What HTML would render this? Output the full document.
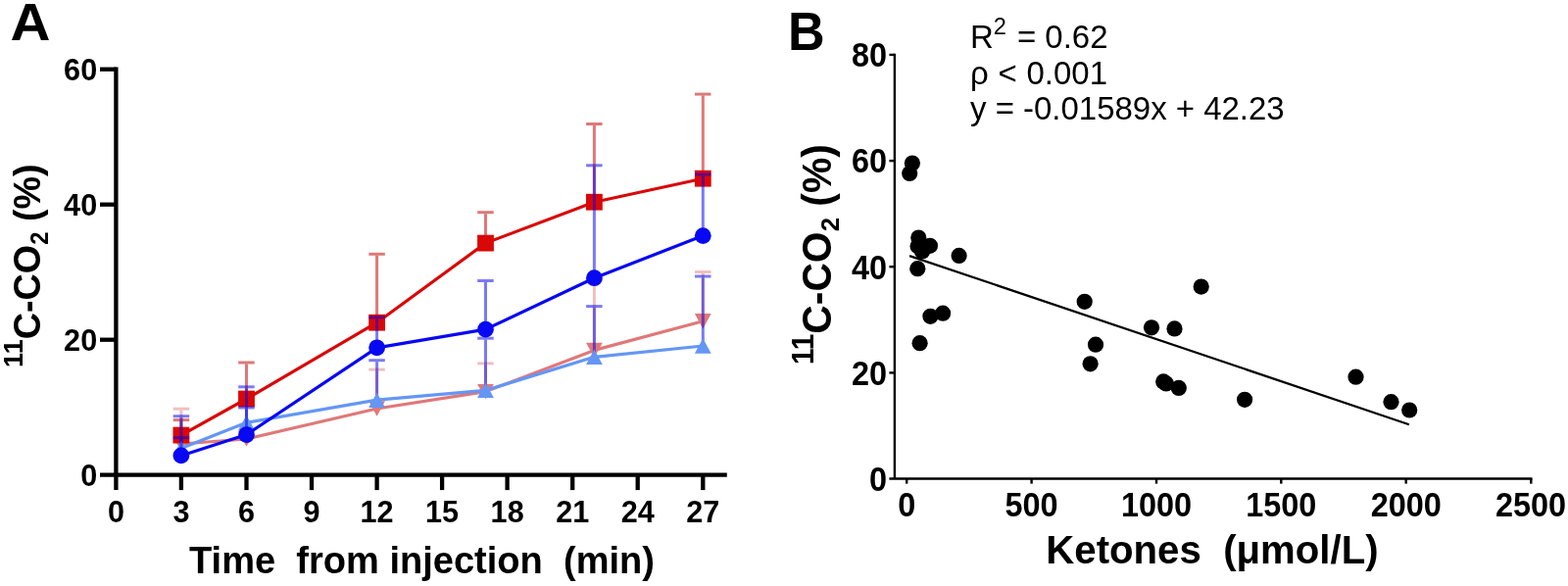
<!DOCTYPE html>
<html><head><meta charset="utf-8"><title>11C-CO2 figure</title>
<style>html,body{margin:0;padding:0;background:#fff;}svg{display:block;}text{font-family:"Liberation Sans", Arial, Helvetica, sans-serif;fill:#000;}.b{font-weight:bold;}.pre{white-space:pre;}</style></head><body>
<svg width="1600" height="598" viewBox="0 0 1600 598">
<rect x="0" y="0" width="1600" height="598" fill="#fff"/>
<text class="b" font-size="54.00" transform="translate(10.50 41.00) scale(1.0500 1)">A</text>
<text class="b" font-size="39.50" transform="translate(40.60 375.00) rotate(-90) scale(0.9550 1)"><tspan font-size="28.5" dy="-18.0">11</tspan><tspan dy="18.0">C-CO</tspan><tspan font-size="25.0" dy="8.0">2</tspan><tspan dy="-8.0"> (%)</tspan></text>
<text class="b pre" font-size="38.80" transform="translate(193.00 584.90) scale(0.9810 1)">Time  from injection  (min)</text>
<g stroke="#000" stroke-width="4.3" fill="none" stroke-linecap="butt">
<line x1="118.4" y1="68.5" x2="118.4" y2="500.1"/>
<line x1="102" y1="484.7" x2="741.8" y2="484.7"/>
<line x1="102" y1="346.7" x2="118.4" y2="346.7"/>
<line x1="102" y1="208.7" x2="118.4" y2="208.7"/>
<line x1="102" y1="70.7" x2="118.4" y2="70.7"/>
<line x1="184.9" y1="484.7" x2="184.9" y2="500.1"/>
<line x1="251.5" y1="484.7" x2="251.5" y2="500.1"/>
<line x1="318.0" y1="484.7" x2="318.0" y2="500.1"/>
<line x1="384.6" y1="484.7" x2="384.6" y2="500.1"/>
<line x1="451.1" y1="484.7" x2="451.1" y2="500.1"/>
<line x1="517.6" y1="484.7" x2="517.6" y2="500.1"/>
<line x1="584.2" y1="484.7" x2="584.2" y2="500.1"/>
<line x1="650.7" y1="484.7" x2="650.7" y2="500.1"/>
<line x1="717.3" y1="484.7" x2="717.3" y2="500.1"/>
</g>
<text class="b" font-size="31.60" text-anchor="end" transform="translate(99.20 496.00) scale(0.9700 1)">0</text>
<text class="b" font-size="31.60" text-anchor="end" transform="translate(99.20 358.00) scale(0.9700 1)">20</text>
<text class="b" font-size="31.60" text-anchor="end" transform="translate(99.20 220.00) scale(0.9700 1)">40</text>
<text class="b" font-size="31.60" text-anchor="end" transform="translate(99.20 82.00) scale(0.9700 1)">60</text>
<text class="b" font-size="31.60" text-anchor="middle" transform="translate(118.40 533.00) scale(0.9700 1)">0</text>
<text class="b" font-size="31.60" text-anchor="middle" transform="translate(184.94 533.00) scale(0.9700 1)">3</text>
<text class="b" font-size="31.60" text-anchor="middle" transform="translate(251.48 533.00) scale(0.9700 1)">6</text>
<text class="b" font-size="31.60" text-anchor="middle" transform="translate(318.02 533.00) scale(0.9700 1)">9</text>
<text class="b" font-size="31.60" text-anchor="middle" transform="translate(384.56 533.00) scale(0.9700 1)">12</text>
<text class="b" font-size="31.60" text-anchor="middle" transform="translate(451.10 533.00) scale(0.9700 1)">15</text>
<text class="b" font-size="31.60" text-anchor="middle" transform="translate(517.64 533.00) scale(0.9700 1)">18</text>
<text class="b" font-size="31.60" text-anchor="middle" transform="translate(584.18 533.00) scale(0.9700 1)">21</text>
<text class="b" font-size="31.60" text-anchor="middle" transform="translate(650.72 533.00) scale(0.9700 1)">24</text>
<text class="b" font-size="31.60" text-anchor="middle" transform="translate(717.26 533.00) scale(0.9700 1)">27</text>
<g stroke="rgba(224,112,112,0.45)" stroke-width="3.0" fill="none"><line x1="184.9" y1="453.0" x2="184.9" y2="418.7"/><line x1="176.7" y1="417.2" x2="193.2" y2="417.2"/><line x1="251.5" y1="448.0" x2="251.5" y2="441.5"/><line x1="243.2" y1="440.0" x2="259.7" y2="440.0"/><line x1="384.6" y1="417.0" x2="384.6" y2="378.6"/><line x1="376.3" y1="377.1" x2="392.8" y2="377.1"/><line x1="495.5" y1="399.6" x2="495.5" y2="372.4"/><line x1="487.2" y1="370.9" x2="503.7" y2="370.9"/><line x1="606.4" y1="357.4" x2="606.4" y2="287.5"/><line x1="598.1" y1="286.0" x2="614.6" y2="286.0"/><line x1="717.3" y1="327.7" x2="717.3" y2="279.0"/><line x1="709.0" y1="277.5" x2="725.5" y2="277.5"/></g>
<polyline points="184.9,453.0 251.5,448.0 384.6,417.0 495.5,399.6 606.4,357.4 717.3,327.7" fill="none" stroke="#E07878" stroke-width="3.2" stroke-linejoin="round"/>
<polygon points="176.5,445.3 193.3,445.3 184.9,460.7" fill="#E07878"/><polygon points="243.1,440.3 259.9,440.3 251.5,455.7" fill="#E07878"/><polygon points="376.2,409.3 393.0,409.3 384.6,424.7" fill="#E07878"/><polygon points="487.1,391.9 503.9,391.9 495.5,407.3" fill="#E07878"/><polygon points="598.0,349.7 614.8,349.7 606.4,365.1" fill="#E07878"/><polygon points="708.9,320.0 725.7,320.0 717.3,335.4" fill="#E07878"/>
<g stroke="rgba(193,0,0,0.53)" stroke-width="3.0" fill="none"><line x1="184.9" y1="444.1" x2="184.9" y2="430.1"/><line x1="176.7" y1="428.6" x2="193.2" y2="428.6"/><line x1="251.5" y1="407.0" x2="251.5" y2="371.5"/><line x1="243.2" y1="370.0" x2="259.7" y2="370.0"/><line x1="384.6" y1="329.2" x2="384.6" y2="260.8"/><line x1="376.3" y1="259.3" x2="392.8" y2="259.3"/><line x1="495.5" y1="248.1" x2="495.5" y2="218.2"/><line x1="487.2" y1="216.7" x2="503.7" y2="216.7"/><line x1="606.4" y1="206.2" x2="606.4" y2="128.0"/><line x1="598.1" y1="126.5" x2="614.6" y2="126.5"/><line x1="717.3" y1="182.2" x2="717.3" y2="97.6"/><line x1="709.0" y1="96.1" x2="725.5" y2="96.1"/></g>
<polyline points="184.9,444.1 251.5,407.0 384.6,329.2 495.5,248.1 606.4,206.2 717.3,182.2" fill="none" stroke="#D90808" stroke-width="3.2" stroke-linejoin="round"/>
<rect x="176.5" y="435.7" width="16.8" height="16.8" fill="#D90808"/><rect x="243.1" y="398.6" width="16.8" height="16.8" fill="#D90808"/><rect x="376.2" y="320.8" width="16.8" height="16.8" fill="#D90808"/><rect x="487.1" y="239.7" width="16.8" height="16.8" fill="#D90808"/><rect x="598.0" y="197.8" width="16.8" height="16.8" fill="#D90808"/><rect x="708.9" y="173.8" width="16.8" height="16.8" fill="#D90808"/>
<g stroke="rgba(0,0,235,0.52)" stroke-width="3.0" fill="none"><line x1="184.9" y1="457.5" x2="184.9" y2="448.2"/><line x1="176.7" y1="446.7" x2="193.2" y2="446.7"/><line x1="251.5" y1="431.3" x2="251.5" y2="417.5"/><line x1="243.2" y1="416.0" x2="259.7" y2="416.0"/><line x1="384.6" y1="408.2" x2="384.6" y2="369.2"/><line x1="376.3" y1="367.7" x2="392.8" y2="367.7"/><line x1="495.5" y1="398.3" x2="495.5" y2="346.7"/><line x1="487.2" y1="345.2" x2="503.7" y2="345.2"/><line x1="606.4" y1="364.3" x2="606.4" y2="314.1"/><line x1="598.1" y1="312.6" x2="614.6" y2="312.6"/><line x1="717.3" y1="353.0" x2="717.3" y2="283.5"/><line x1="709.0" y1="282.0" x2="725.5" y2="282.0"/></g>
<polyline points="184.9,457.5 251.5,431.3 384.6,408.2 495.5,398.3 606.4,364.3 717.3,353.0" fill="none" stroke="#6496F5" stroke-width="3.2" stroke-linejoin="round"/>
<polygon points="184.9,449.8 193.3,465.2 176.5,465.2" fill="#6496F5"/><polygon points="251.5,423.6 259.9,439.0 243.1,439.0" fill="#6496F5"/><polygon points="384.6,400.5 393.0,415.9 376.2,415.9" fill="#6496F5"/><polygon points="495.5,390.6 503.9,406.0 487.1,406.0" fill="#6496F5"/><polygon points="606.4,356.6 614.8,372.0 598.0,372.0" fill="#6496F5"/><polygon points="717.3,345.3 725.7,360.7 708.9,360.7" fill="#6496F5"/>
<g stroke="rgba(0,0,235,0.52)" stroke-width="3.0" fill="none"><line x1="184.9" y1="464.9" x2="184.9" y2="426.2"/><line x1="176.7" y1="424.7" x2="193.2" y2="424.7"/><line x1="251.5" y1="443.6" x2="251.5" y2="396.3"/><line x1="243.2" y1="394.8" x2="259.7" y2="394.8"/><line x1="384.6" y1="354.8" x2="384.6" y2="325.3"/><line x1="376.3" y1="323.8" x2="392.8" y2="323.8"/><line x1="495.5" y1="336.1" x2="495.5" y2="288.0"/><line x1="487.2" y1="286.5" x2="503.7" y2="286.5"/><line x1="606.4" y1="283.7" x2="606.4" y2="170.3"/><line x1="598.1" y1="168.8" x2="614.6" y2="168.8"/><line x1="717.3" y1="240.6" x2="717.3" y2="179.5"/><line x1="709.0" y1="178.0" x2="725.5" y2="178.0"/></g>
<polyline points="184.9,464.9 251.5,443.6 384.6,354.8 495.5,336.1 606.4,283.7 717.3,240.6" fill="none" stroke="#0808F2" stroke-width="3.2" stroke-linejoin="round"/>
<circle cx="184.9" cy="464.9" r="8.4" fill="#0808F2"/><circle cx="251.5" cy="443.6" r="8.4" fill="#0808F2"/><circle cx="384.6" cy="354.8" r="8.4" fill="#0808F2"/><circle cx="495.5" cy="336.1" r="8.4" fill="#0808F2"/><circle cx="606.4" cy="283.7" r="8.4" fill="#0808F2"/><circle cx="717.3" cy="240.6" r="8.4" fill="#0808F2"/>
<text class="b" font-size="54.60" transform="translate(804.00 50.50) scale(0.9550 1)">B</text>
<text class="b" font-size="42.00" transform="translate(847.60 372.00) rotate(-90) scale(0.9720 1)"><tspan font-size="30.5" dy="-17.5">11</tspan><tspan dy="17.5">C-CO</tspan><tspan font-size="26.5" dy="8.5">2</tspan><tspan dy="-8.5"> (%)</tspan></text>
<text class="b pre" font-size="40.80" transform="translate(1067.30 575.10) scale(0.9850 1)">Ketones  (μmol/L)</text>
<text class="" font-size="32.80" transform="translate(990.00 48.70) scale(1.0050 1)">R<tspan font-size="23.5" dy="-13.7">2</tspan><tspan dx="1.8" dy="13.7"> = 0.62</tspan></text>
<text class="" font-size="32.80" transform="translate(990.00 85.60) scale(1.0050 1)">ρ<tspan dx="0.6"> &lt;</tspan><tspan dx="0.6"> 0.001</tspan></text>
<text class="" font-size="32.80" transform="translate(990.00 122.30) scale(1.0050 1)">y = -0.01589x + 42.23</text>
<g stroke="#000" stroke-width="2.4" fill="none">
<line x1="912.9" y1="54.7" x2="912.9" y2="488.5"/>
<line x1="907.4" y1="488.5" x2="1563.5" y2="488.5"/>
<line x1="907.4" y1="380.4" x2="912.9" y2="380.4"/>
<line x1="907.4" y1="272.2" x2="912.9" y2="272.2"/>
<line x1="907.4" y1="164.1" x2="912.9" y2="164.1"/>
<line x1="907.4" y1="55.9" x2="912.9" y2="55.9"/>
<line x1="925.2" y1="488.5" x2="925.2" y2="493.6"/>
<line x1="1052.6" y1="488.5" x2="1052.6" y2="493.6"/>
<line x1="1180.0" y1="488.5" x2="1180.0" y2="493.6"/>
<line x1="1307.3" y1="488.5" x2="1307.3" y2="493.6"/>
<line x1="1434.7" y1="488.5" x2="1434.7" y2="493.6"/>
<line x1="1562.3" y1="488.5" x2="1562.3" y2="493.6"/>
</g>
<text class="b" font-size="34.50" text-anchor="end" transform="translate(905.10 500.90) scale(0.9400 1)">0</text>
<text class="b" font-size="34.50" text-anchor="end" transform="translate(905.10 392.75) scale(0.9400 1)">20</text>
<text class="b" font-size="34.50" text-anchor="end" transform="translate(905.10 284.60) scale(0.9400 1)">40</text>
<text class="b" font-size="34.50" text-anchor="end" transform="translate(905.10 176.45) scale(0.9400 1)">60</text>
<text class="b" font-size="34.50" text-anchor="end" transform="translate(905.10 68.30) scale(0.9400 1)">80</text>
<text class="b" font-size="34.50" text-anchor="middle" transform="translate(925.20 526.50) scale(0.9400 1)">0</text>
<text class="b" font-size="34.50" text-anchor="middle" transform="translate(1052.58 526.50) scale(0.9400 1)">500</text>
<text class="b" font-size="34.50" text-anchor="middle" transform="translate(1179.96 526.50) scale(0.9400 1)">1000</text>
<text class="b" font-size="34.50" text-anchor="middle" transform="translate(1307.34 526.50) scale(0.9400 1)">1500</text>
<text class="b" font-size="34.50" text-anchor="middle" transform="translate(1434.72 526.50) scale(0.9400 1)">2000</text>
<text class="b" font-size="34.50" text-anchor="middle" transform="translate(1562.10 526.50) scale(0.9400 1)">2500</text>
<line x1="928.1" y1="261.1" x2="1437.9" y2="433.2" stroke="#000" stroke-width="2.2"/>
<g fill="#000"><circle cx="930.9" cy="166.6" r="8.1"/><circle cx="928.2" cy="177.0" r="8.1"/><circle cx="937.3" cy="242.5" r="8.1"/><circle cx="948.9" cy="250.8" r="8.1"/><circle cx="936.6" cy="251.2" r="8.1"/><circle cx="941.0" cy="256.5" r="8.1"/><circle cx="936.3" cy="274.2" r="8.1"/><circle cx="978.6" cy="260.9" r="8.1"/><circle cx="949.4" cy="322.8" r="8.1"/><circle cx="962.1" cy="319.7" r="8.1"/><circle cx="938.6" cy="350.2" r="8.1"/><circle cx="1106.7" cy="307.8" r="8.1"/><circle cx="1225.7" cy="292.6" r="8.1"/><circle cx="1175.0" cy="334.3" r="8.1"/><circle cx="1198.5" cy="335.4" r="8.1"/><circle cx="1118.0" cy="351.7" r="8.1"/><circle cx="1112.6" cy="371.3" r="8.1"/><circle cx="1187.2" cy="389.4" r="8.1"/><circle cx="1190.0" cy="391.4" r="8.1"/><circle cx="1202.8" cy="395.9" r="8.1"/><circle cx="1270.1" cy="407.8" r="8.1"/><circle cx="1383.5" cy="384.7" r="8.1"/><circle cx="1419.5" cy="410.2" r="8.1"/><circle cx="1438.2" cy="418.5" r="8.1"/></g>
</svg></body></html>
